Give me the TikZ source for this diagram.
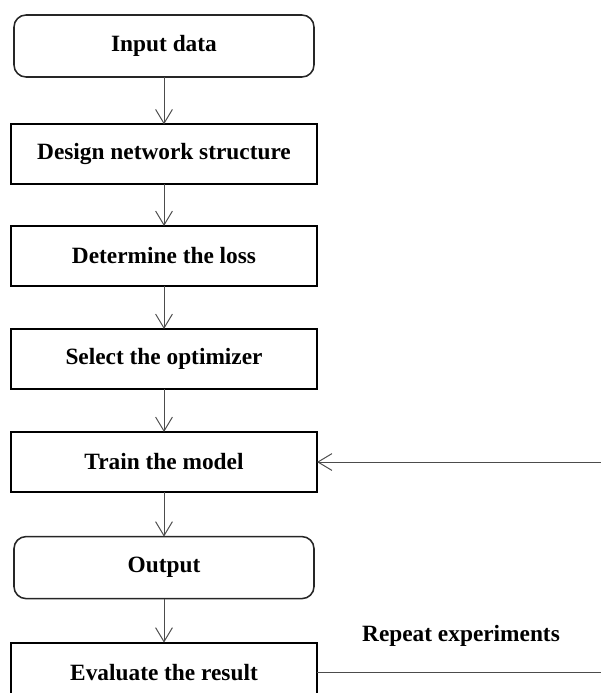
\documentclass[tikz,border=0pt]{standalone}
\usepackage{fontspec}
\setmainfont{Liberation Serif}
\usepackage{tkz-graph}
\usetikzlibrary{arrows.meta}

\tikzset{
	stepbox/.style={draw=black, line width=1.4pt, rectangle, minimum width=7.65cm,
		minimum height=1.5cm, inner sep=0pt, font=\fontsize{16.6}{20}\selectfont\bfseries},
	endbox/.style={stepbox, draw=black!85, line width=1.1pt, rounded corners=0.3cm,
		minimum width=7.5cm, minimum height=1.55cm},
	flow/.style={draw=black!70, line width=0.7pt, -{Straight Barb[length=0.35cm, width=0.42cm]}},
	note/.style={font=\fontsize{16.6}{20}\selectfont\bfseries},
}

\begin{document}
\begin{tikzpicture}
	\useasboundingbox (0,0) rectangle (15,-17.325);
	\SetGraphUnit{2.6}
	\GraphInit[vstyle=Normal]
	\tikzset{VertexStyle/.style={endbox}, EdgeStyle/.style={flow}}
	%\SetVertexNoLabel
	\Vertex[x=4.1, y=-1.15, L={Input data}]{inp}
	\Vertex[x=4.1, y=-14.19, L={Output}]{outp}
	\tikzset{VertexStyle/.style={stepbox}}
	\SO[unit=2.71, L={Design network structure}](inp){des}
	\SO[unit=2.54, L={Determine the loss}](des){los}
	\SO[unit=2.575, L={Select the optimizer}](los){opt}
	\SO[unit=2.575, L={Train the model}](opt){trn}
	\Vertex[x=4.1, y=-16.815, L={Evaluate the result}]{evl}
	\Edges(inp,des,los,opt,trn,outp,evl)
	\draw[flow] (evl.east) -- node[note, yshift=0.925cm]{Repeat experiments} ++(7.2,0) |- (trn.east);
\end{tikzpicture}
\end{document}
